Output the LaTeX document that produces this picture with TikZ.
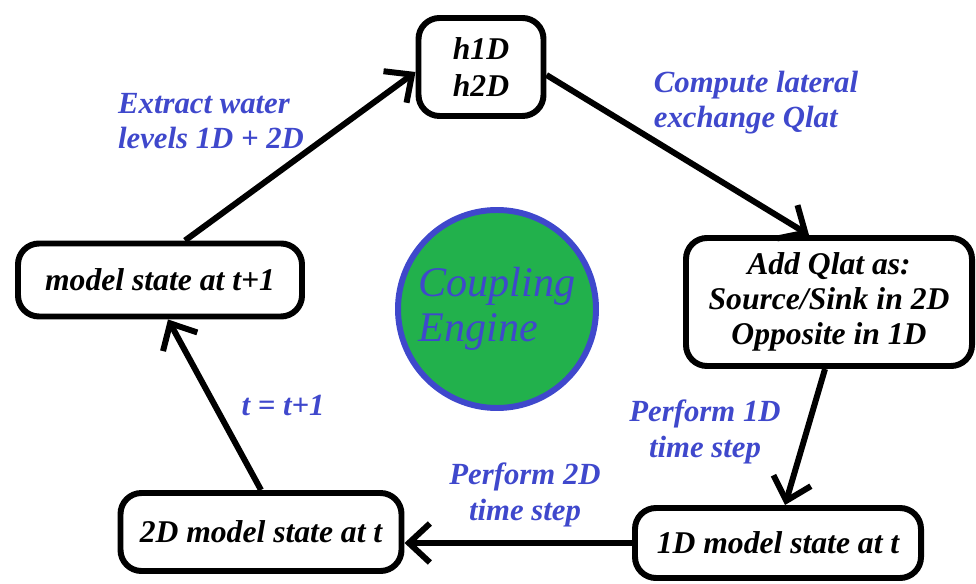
\documentclass[tikz,border=0pt]{standalone}
\usepackage{fontspec}
\setmainfont{LiberationSerif}[Extension=.ttf,
  UprightFont=*-Regular, BoldFont=*-Bold,
  ItalicFont=*-Italic, BoldItalicFont=*-BoldItalic]
\usetikzlibrary{arrows.meta}
\definecolor{paintblue}{RGB}{63,72,204}
\definecolor{paintgreen}{RGB}{34,177,76}

\begin{document}
\begin{tikzpicture}
  \def\lw{3.4pt}
  \tikzset{
    state box/.style={draw, line width=\lw, rounded corners=0.42cm, fill=white,
      align=center, inner sep=0pt, font=\fontsize{18}{20}\selectfont\bfseries\itshape},
    flow arrow/.style={line width=\lw, -{Straight Barb[length=0.42cm,width=0.78cm]}},
    step label/.style={text=paintblue, font=\fontsize{17.5}{20}\selectfont\bfseries\itshape},
  }
  \useasboundingbox (0,0) rectangle (19.52,11.66);

  \node[circle, draw=paintblue, line width=\lw, fill=paintgreen, minimum size=3.96cm,
        align=left, text=paintblue, font=\fontsize{24}{24}\selectfont\itshape]
        (engine) at (9.94,5.48) {Coupling\\[2pt]Engine};

  \node[state box, minimum width=2.5cm, minimum height=1.96cm] (h) at (9.62,10.32) {h1D\\[1pt]h2D};
  \node[state box, minimum width=5.72cm, minimum height=2.56cm] (qlat) at (16.58,5.62)
    {Add Qlat as:\\Source/Sink in 2D\\Opposite in 1D};
  \node[state box, minimum width=5.72cm, minimum height=1.4cm] (oned) at (15.56,0.8) {1D model state at t};
  \node[state box, minimum width=5.62cm, minimum height=1.56cm] (twod) at (5.22,1.02) {2D model state at t};
  \node[state box, minimum width=5.68cm, minimum height=1.46cm] (next) at (3.2,6.06) {model state at t+1};

  \draw[flow arrow] ([xshift=0.5cm]next.north) -- ([yshift=-0.1cm]h.west);
  \draw[flow arrow] ([yshift=-0.16cm]h.east) -- ([xshift=-0.4cm]qlat.north);
  \draw[flow arrow] ([xshift=-0.08cm]qlat.south) -- ([xshift=0.14cm]oned.north);
  \draw[flow arrow] (oned.west) -- (oned.west -| twod.east);
  \draw[flow arrow] (twod.north) -- ([xshift=0.16cm]next.south);

  \node[step label, align=left] (extract) at (4.22,9.24) {Extract water\\levels 1D + 2D};
  \node[step label, align=left] (compute) at (15.12,9.6) {Compute lateral\\exchange Qlat};
  \node[step label, align=center] (step1d) at (14.1,3.02) {Perform 1D\\time step};
  \node[step label, align=center] (step2d) at (10.5,1.76) {Perform 2D\\time step};
  \node[step label] (advance) at (5.66,3.56) {t = t+1};
\end{tikzpicture}
\end{document}
